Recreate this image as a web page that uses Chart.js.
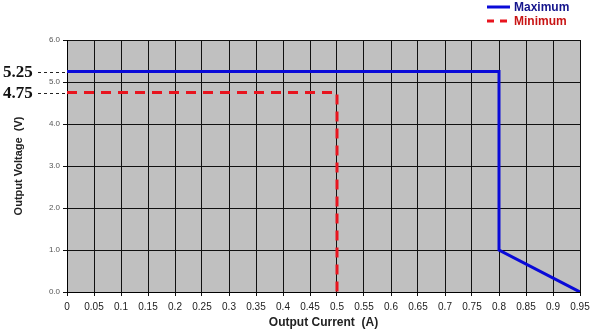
<!DOCTYPE html>
<html>
<head>
<meta charset="utf-8">
<script src="https://cdn.jsdelivr.net/npm/chart.js@4/dist/chart.umd.min.js"></script>
<style>
  html, body { margin: 0; padding: 0; background: #fff; }
  #wrap { width: 600px; height: 331px; position: relative; }
</style>
</head>
<body>
<div id="wrap"><canvas id="chart"></canvas></div>
<script>
// data
const maxCurrent = [0, 0.8, 0.8, 0.95];
const maxVoltage = [5.25, 5.25, 1.0, 0];
const minCurrent = [0, 0.5, 0.5];
const minVoltage = [4.75, 4.75, 0];
const markedLevels = [5.25, 4.75];
const seriesNames = ["Maximum", "Minimum"];

function toPoints(xs, ys) {
  return xs.map((x, i) => ({x: x, y: ys[i]}));
}

// grey plot background
const plotBg = {
  id: 'plotBg',
  beforeDraw(chart) {
    const {ctx, chartArea: a} = chart;
    ctx.save();
    ctx.fillStyle = '#c0c0c0';
    ctx.fillRect(a.left, a.top, a.right - a.left, a.bottom - a.top);
    ctx.restore();
  }
};

// 5.25 / 4.75 marks on the left and the stacked legend top right
const extras = {
  id: 'extras',
  afterDraw(chart) {
    const ctx = chart.ctx;
    const y = chart.scales.y;
    const a = chart.chartArea;
    ctx.save();
    ctx.font = 'bold 17px "Liberation Serif", serif';
    ctx.textBaseline = 'middle';
    ctx.textAlign = 'left';
    ctx.fillStyle = '#111';
    markedLevels.forEach(v => {
      const py = Math.round(y.getPixelForValue(v)) + 0.5;
      ctx.fillText(v.toFixed(2), 3, py);
      ctx.strokeStyle = '#222';
      ctx.lineWidth = 1;
      ctx.setLineDash([3, 3]);
      ctx.beginPath();
      ctx.moveTo(38, py);
      ctx.lineTo(a.left, py);
      ctx.stroke();
    });

    // legend
    const textCols = ['#14148c', '#c81414'];
    chart.data.datasets.forEach((ds, i) => {
      const ly = 7 + i * 14;
      ctx.setLineDash(i ? [7, 6] : []);
      ctx.strokeStyle = ds.borderColor;
      ctx.lineWidth = 3;
      ctx.beginPath();
      ctx.moveTo(487, ly);
      ctx.lineTo(510, ly);
      ctx.stroke();
      ctx.setLineDash([]);
      ctx.font = 'bold 12px "Liberation Sans", Arial, sans-serif';
      ctx.fillStyle = textCols[i];
      ctx.textAlign = 'left';
      ctx.fillText(ds.label, 514, ly + 1);
    });
    ctx.restore();
  }
};

new Chart(document.getElementById('chart'), {
  type: 'scatter',
  data: {
    datasets: [{
      label: seriesNames[0],
      data: toPoints(maxCurrent, maxVoltage),
      showLine: true,
      borderColor: '#0a0ad8',
      borderWidth: 3,
      pointRadius: 0,
      tension: 0
    }, {
      label: seriesNames[1],
      data: toPoints(minCurrent, minVoltage),
      showLine: true,
      borderColor: '#e8141e',
      borderDash: [10, 7],
      borderWidth: 3,
      pointRadius: 0,
      tension: 0
    }]
  },
  options: {
    responsive: true,
    maintainAspectRatio: false,
    animation: false,
    layout: { padding: { top: 40, right: 20, left: 0, bottom: 0 } },
    plugins: {
      legend: { display: false },
      tooltip: { enabled: false }
    },
    scales: {
      x: {
        type: 'linear',
        min: 0,
        max: 0.95,
        afterFit(s) { s.height = 39; },
        border: { color: '#000', width: 1 },
        grid: { color: '#111', lineWidth: 1, tickLength: 4, drawOnChartArea: true },
        ticks: {
          stepSize: 0.05,
          autoSkip: false,
          maxRotation: 0,
          padding: 5,
          color: '#222',
          font: { size: 10, family: '"Liberation Sans", Arial, sans-serif' },
          callback: v => String(Math.round(v * 100) / 100)
        },
        title: {
          display: true,
          text: 'Output Current  (A)',
          color: '#222',
          padding: { top: 0, bottom: 1 },
          font: { size: 12, weight: 'bold', family: '"Liberation Sans", Arial, sans-serif' }
        }
      },
      y: {
        min: 0,
        max: 6,
        afterFit(s) { s.width = 67; },
        border: { color: '#000', width: 1 },
        grid: { color: '#111', lineWidth: 1, tickLength: 4 },
        ticks: {
          stepSize: 1,
          padding: 3,
          color: '#555',
          font: { size: 8, family: '"Liberation Sans", Arial, sans-serif' },
          callback: v => v.toFixed(1)
        },
        title: {
          display: true,
          text: 'Output Voltage  (V)',
          color: '#222',
          padding: { top: 12, bottom: 0 },
          font: { size: 11, weight: 'bold', family: '"Liberation Sans", Arial, sans-serif' }
        }
      }
    }
  },
  plugins: [plotBg, extras]
});
</script>
</body>
</html>
